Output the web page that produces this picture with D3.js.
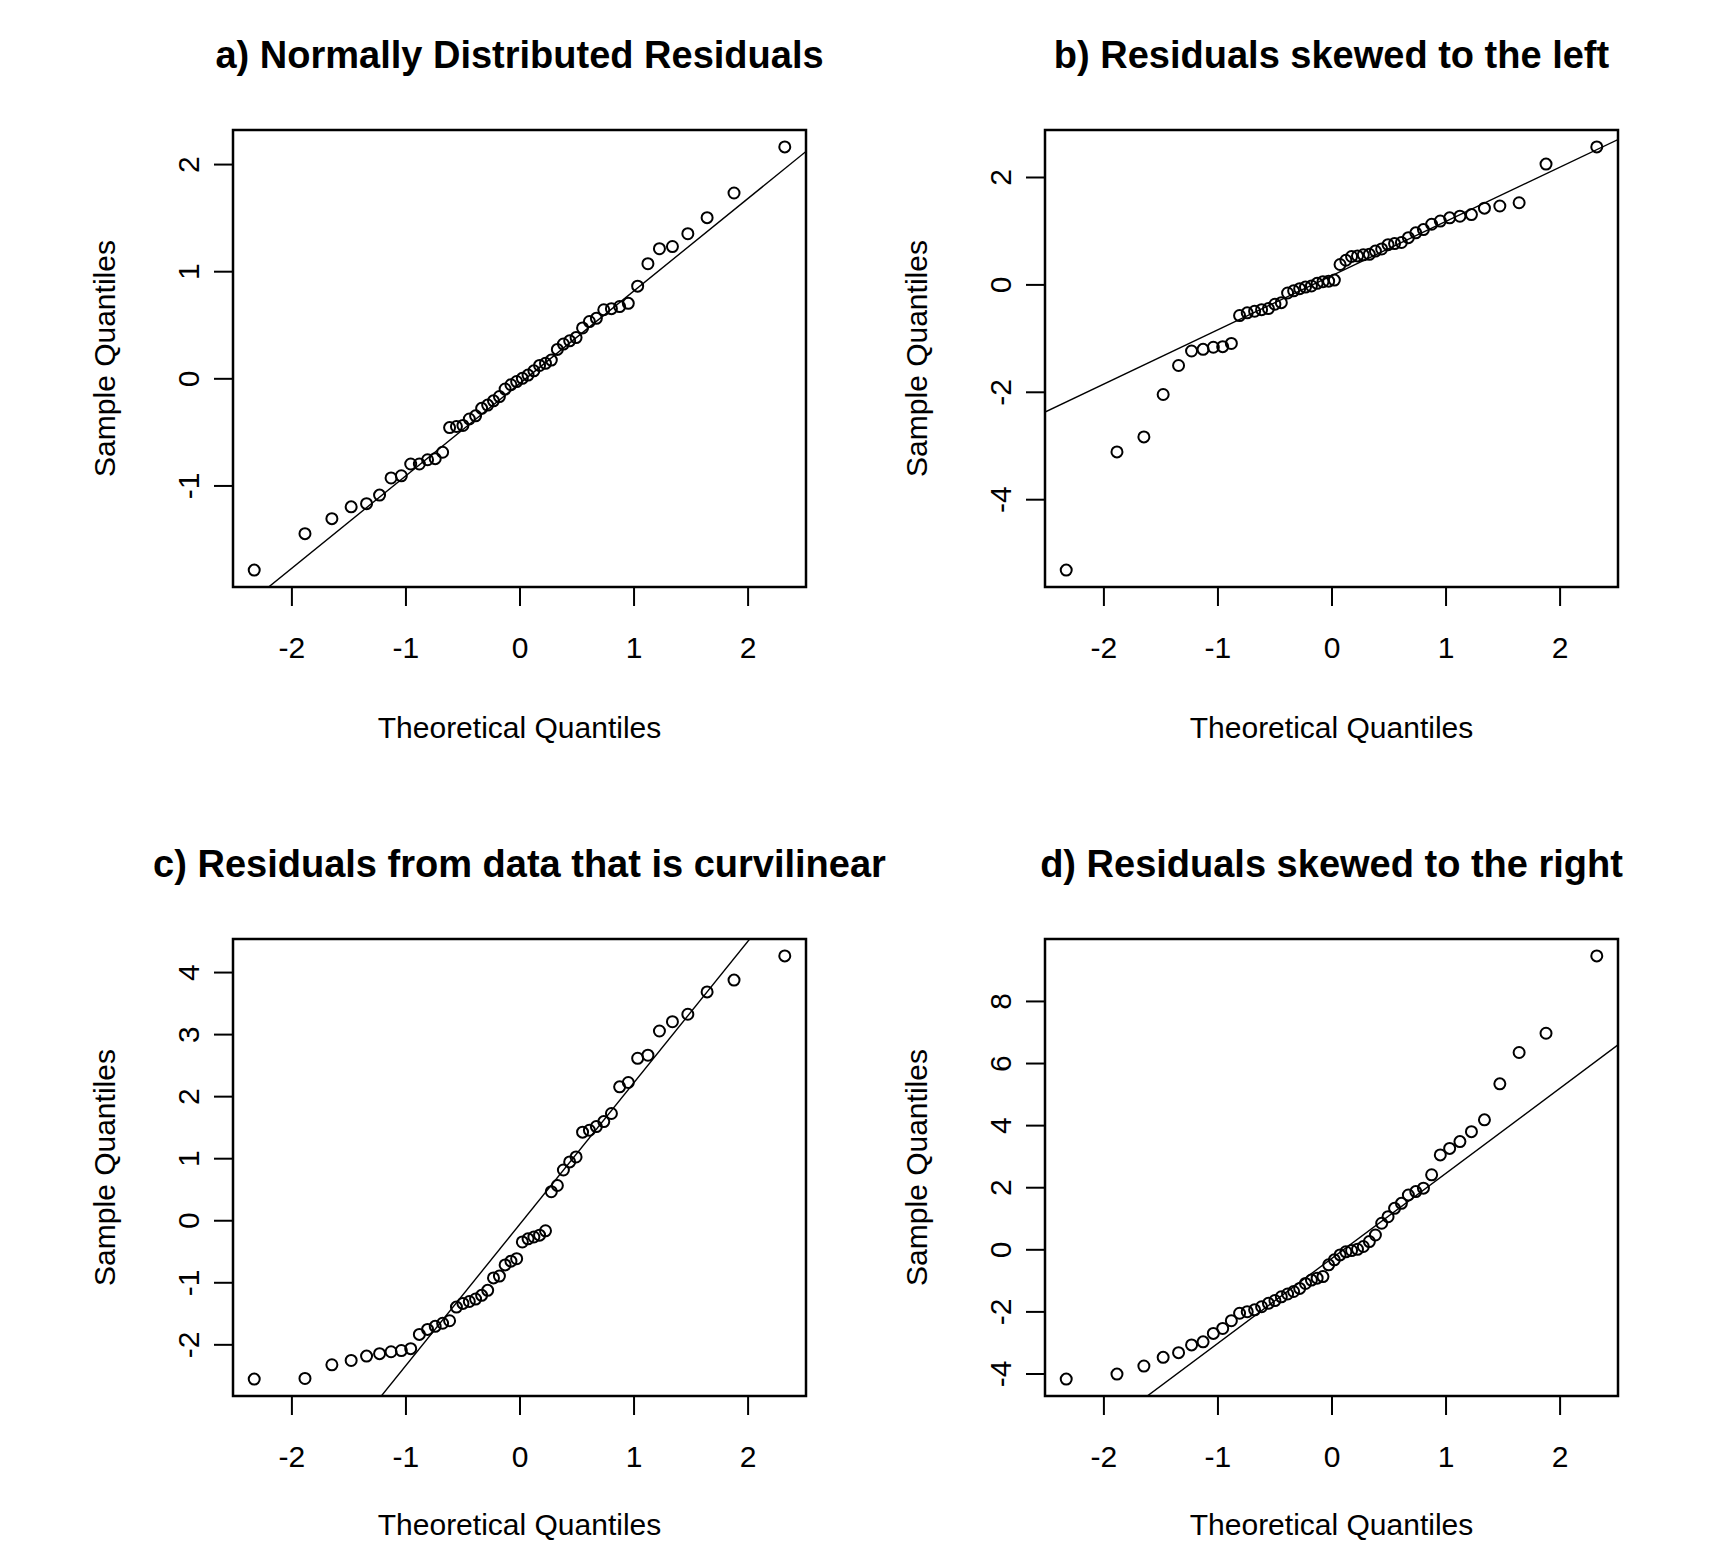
<!DOCTYPE html>
<html lang="en">
<head>
<meta charset="UTF-8">
<title>Normal Q-Q plots of residuals</title>
<script src="https://d3js.org/d3.v7.min.js"></script>
<style>
    body { margin: 0; background: #fff; }
    svg { display: block; }
    text { font-family: "Liberation Sans", Arial, sans-serif; fill: #000; }
    .title { font-size: 38px; font-weight: bold; }
    .lab { font-size: 30px; }
    .tick text { font-size: 30px; font-family: "Liberation Sans", Arial, sans-serif; }
</style>
</head>
<body>
<svg id="chart" width="1717" height="1543"></svg>
<script>
// theoretical normal quantiles (n = 50), same for all four panels
const theoretical = [
    -2.326, -1.881, -1.645, -1.476, -1.341, -1.227, -1.126, -1.036, -0.954, -0.878,
    -0.806, -0.739, -0.674, -0.613, -0.553, -0.496, -0.440, -0.385, -0.332, -0.279,
    -0.228, -0.176, -0.126, -0.075, -0.025, 0.025, 0.075, 0.126, 0.176, 0.228,
    0.279, 0.332, 0.385, 0.440, 0.496, 0.553, 0.613, 0.674, 0.739, 0.806,
    0.878, 0.954, 1.036, 1.126, 1.227, 1.341, 1.476, 1.645, 1.881, 2.326
];

// sample quantiles
const sampleA = [
    -1.79, -1.45, -1.31, -1.20, -1.17, -1.09, -0.93, -0.91, -0.80, -0.80,
    -0.76, -0.75, -0.69, -0.46, -0.45, -0.44, -0.38, -0.35, -0.28, -0.25,
    -0.21, -0.17, -0.10, -0.06, -0.03, 0.00, 0.03, 0.07, 0.12, 0.14,
    0.17, 0.27, 0.32, 0.35, 0.38, 0.47, 0.53, 0.56, 0.64, 0.65,
    0.67, 0.70, 0.86, 1.07, 1.21, 1.23, 1.35, 1.50, 1.73, 2.16
];
const sampleB = [
    -5.32, -3.12, -2.84, -2.05, -1.51, -1.24, -1.21, -1.17, -1.16, -1.10,
    -0.58, -0.53, -0.50, -0.47, -0.45, -0.37, -0.34, -0.16, -0.12, -0.08,
    -0.05, -0.03, 0.02, 0.05, 0.06, 0.08, 0.37, 0.45, 0.52, 0.53,
    0.55, 0.56, 0.62, 0.66, 0.74, 0.76, 0.78, 0.87, 0.96, 1.02,
    1.12, 1.18, 1.24, 1.27, 1.30, 1.42, 1.46, 1.52, 2.24, 2.56
];
const sampleC = [
    -2.56, -2.55, -2.33, -2.26, -2.19, -2.15, -2.12, -2.10, -2.07, -1.84,
    -1.76, -1.71, -1.66, -1.62, -1.40, -1.34, -1.31, -1.27, -1.21, -1.13,
    -0.93, -0.90, -0.72, -0.66, -0.62, -0.35, -0.30, -0.27, -0.24, -0.17,
    0.46, 0.56, 0.81, 0.94, 1.02, 1.42, 1.45, 1.51, 1.59, 1.72,
    2.15, 2.22, 2.61, 2.66, 3.05, 3.20, 3.32, 3.68, 3.87, 4.26
];
const sampleD = [
    -4.18, -4.02, -3.76, -3.48, -3.33, -3.08, -2.98, -2.71, -2.55, -2.30,
    -2.06, -2.01, -1.95, -1.85, -1.74, -1.65, -1.53, -1.44, -1.36, -1.26,
    -1.10, -0.99, -0.93, -0.88, -0.50, -0.34, -0.18, -0.08, -0.04, 0.00,
    0.09, 0.25, 0.46, 0.84, 1.05, 1.32, 1.48, 1.75, 1.86, 1.97,
    2.40, 3.04, 3.25, 3.47, 3.79, 4.17, 5.33, 6.34, 6.96, 9.45
];

const titles = [
    "a) Normally Distributed Residuals",
    "b) Residuals skewed to the left",
    "c) Residuals from data that is curvilinear",
    "d) Residuals skewed to the right"
];

const xTicks = [-2, -1, 0, 1, 2];
const yTicksA = [-1, 0, 1, 2];
const yTicksB = [-4, -2, 0, 2];
const yTicksC = [-2, -1, 0, 1, 2, 3, 4];
const yTicksD = [-4, -2, 0, 2, 4, 6, 8];

// qq reference lines (slope, intercept) as drawn
const lineSlope = [0.863, 1.01, 2.28, 2.74];
const lineIntercept = [-0.05, 0.16, -0.07, -0.30];

const boxW = 573, boxH = 457;
const boxX = [233, 1045];
const boxY = [130, 939];
// bottom row x label sits a little higher so it stays on the page
const xLabOffset = [140, 128];

const panels = [
    { title: titles[0], y: sampleA, ticks: yTicksA, col: 0, row: 0 },
    { title: titles[1], y: sampleB, ticks: yTicksB, col: 1, row: 0 },
    { title: titles[2], y: sampleC, ticks: yTicksC, col: 0, row: 1 },
    { title: titles[3], y: sampleD, ticks: yTicksD, col: 1, row: 1 }
];

const svg = d3.select("#chart");
svg.append("rect").attr("width", 1717).attr("height", 1543).attr("fill", "#fff");

// R style: pad the data range by 4% on each side
function padded(ext) {
    const r = ext[1] - ext[0];
    return [ext[0] - 0.04 * r, ext[1] + 0.04 * r];
}

// plain hyphen for negatives, like R
const fmt = d => String(d);

panels.forEach((p, i) => {
    const g = svg.append("g")
        .attr("transform", `translate(${boxX[p.col]},${boxY[p.row]})`);

    const x = d3.scaleLinear().domain(padded(d3.extent(theoretical))).range([0, boxW]);
    const y = d3.scaleLinear().domain(padded(d3.extent(p.y))).range([boxH, 0]);

    g.append("clipPath").attr("id", "clip" + i)
        .append("rect").attr("width", boxW).attr("height", boxH);

    // x axis
    const xa = g.append("g")
        .attr("transform", `translate(0,${boxH})`)
        .call(d3.axisBottom(x).tickValues(xTicks).tickSize(19).tickPadding(31).tickFormat(fmt));
    xa.select(".domain").remove();
    xa.selectAll(".tick line").attr("stroke", "#000").attr("stroke-width", 2);

    // y axis, labels rotated like R
    const ya = g.append("g")
        .call(d3.axisLeft(y).tickValues(p.ticks).tickSize(19).tickFormat(fmt));
    ya.select(".domain").remove();
    ya.selectAll(".tick line").attr("stroke", "#000").attr("stroke-width", 2);
    ya.selectAll(".tick text")
        .attr("x", -45).attr("dy", null).attr("y", 0)
        .attr("text-anchor", "middle")
        .attr("dominant-baseline", "central")
        .attr("transform", "rotate(-90,-45,0)");

    // reference line
    const dom = x.domain();
    g.append("line")
        .attr("clip-path", `url(#clip${i})`)
        .attr("x1", x(dom[0])).attr("y1", y(lineIntercept[i] + lineSlope[i] * dom[0]))
        .attr("x2", x(dom[1])).attr("y2", y(lineIntercept[i] + lineSlope[i] * dom[1]))
        .attr("stroke", "#000").attr("stroke-width", 1.4);

    // points
    g.append("g").selectAll("circle")
        .data(p.y)
        .join("circle")
        .attr("cx", (d, j) => x(theoretical[j]))
        .attr("cy", d => y(d))
        .attr("r", 5.5)
        .attr("fill", "none")
        .attr("stroke", "#000")
        .attr("stroke-width", 2);

    // plot box
    g.append("rect")
        .attr("width", boxW).attr("height", boxH)
        .attr("fill", "none").attr("stroke", "#000").attr("stroke-width", 2.5);

    g.append("text").attr("class", "title")
        .attr("x", boxW / 2).attr("y", -62)
        .attr("text-anchor", "middle")
        .text(p.title);

    g.append("text").attr("class", "lab")
        .attr("x", boxW / 2).attr("y", boxH + xLabOffset[p.row])
        .attr("text-anchor", "middle")
        .attr("dominant-baseline", "central")
        .text("Theoretical Quantiles");

    g.append("text").attr("class", "lab")
        .attr("transform", `translate(-129,${boxH / 2}) rotate(-90)`)
        .attr("text-anchor", "middle")
        .attr("dominant-baseline", "central")
        .text("Sample Quantiles");
});
</script>
</body>
</html>
